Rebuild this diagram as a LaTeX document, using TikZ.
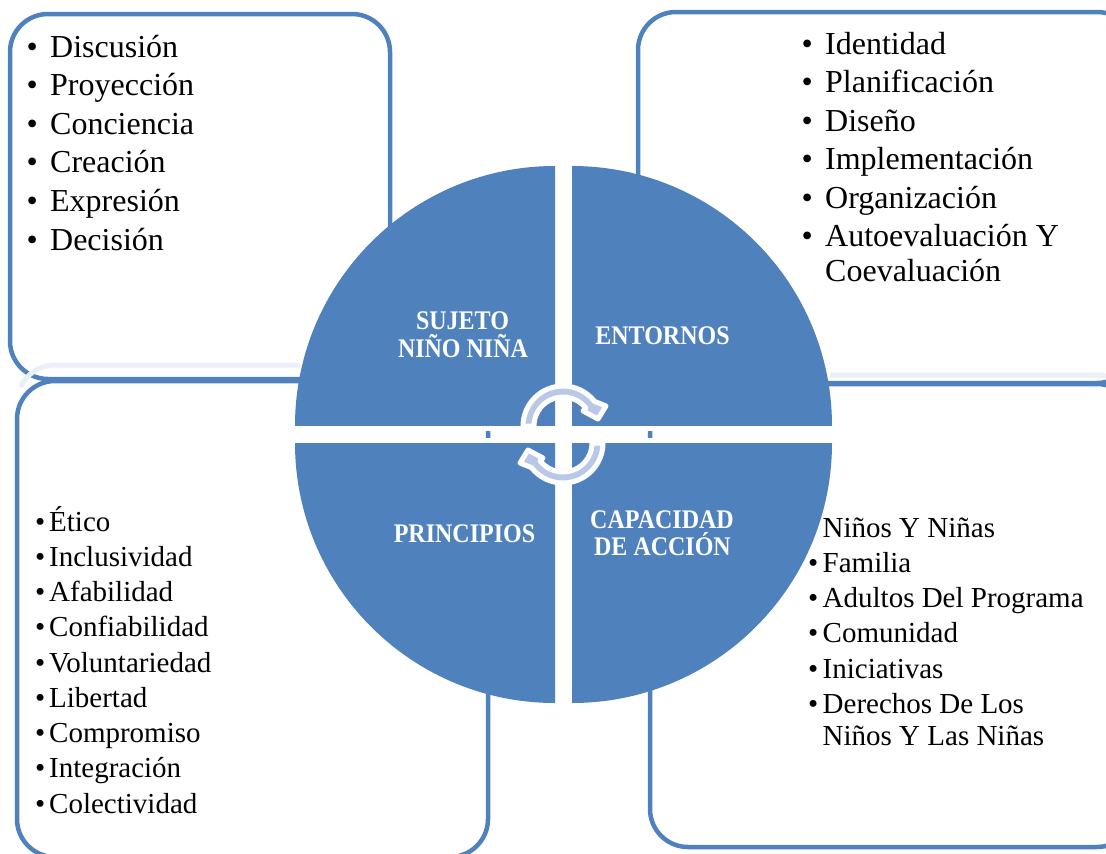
\documentclass[tikz,border=0pt]{standalone}
\usepackage{fontspec}
\setmainfont{Liberation Serif}
\definecolor{mainblue}{HTML}{4F81BD}
\definecolor{arrowfill}{HTML}{B9C9E5}
\definecolor{glowblue}{HTML}{EAF0F8}
\newcommand{\lbltext}[1]{\scalebox{1}[1.12]{#1}}
\begin{document}
\begin{tikzpicture}[x=1pt,y=-1pt,
  box/.style={draw=mainblue, line width=4.5pt, rounded corners=38pt},
  glow/.style={draw=glowblue, line width=5pt},
  quad/.style={fill=mainblue},
  gapband/.style={fill=white},
  itembig/.style={anchor=base west, inner sep=0pt, font=\fontsize{32}{38}\selectfont},
  itemsmall/.style={anchor=base west, inner sep=0pt, font=\fontsize{29}{35}\selectfont},
  lbl/.style={anchor=base, inner sep=0pt, text=white, font=\bfseries\fontsize{24}{28}\selectfont},
  arrowshape/.style={fill=arrowfill, draw=white, line width=5pt, line join=round}
]
\useasboundingbox (0,0) rectangle (1106,854);
\begin{scope}
\clip (0,0) rectangle (1106,854);
% upper boxes
\draw[box] (10,14) rectangle (390,379);
\draw[box] (638,12) rectangle (1135,383);
% faint glow above lower boxes
\draw[glow] ([shift={(55,403)}]205:38) arc[start angle=205,end angle=270,radius=38] -- (300,365);
\draw[glow] (830,375) -- (1097,375) arc[start angle=270,end angle=330,radius=38];
% lower boxes
\draw[box] (17,381) rectangle (488,857);
\draw[box] (650,384) rectangle (1135,847);
\end{scope}

% circle quadrants
\fill[quad] (555,426) -- (295,426) arc[start angle=180,end angle=270,radius=260] -- cycle;
\fill[quad] (572,426) -- (572,166) arc[start angle=270,end angle=360,radius=260] -- cycle;
\fill[quad] (555,443) -- (555,703) arc[start angle=90,end angle=180,radius=260] -- cycle;
\fill[quad] (572,443) -- (832,443) arc[start angle=0,end angle=90,radius=260] -- cycle;
\fill[gapband] (295,426) rectangle (832,431);
\fill[gapband] (295,438) rectangle (832,443);

% circular arrows
\filldraw[arrowshape] (523,426) arc[start angle=180,end angle=322,radius=40]
  -- (606,406) -- (598,419) -- (583,411)
  -- ([shift={(563,426)}]322:29) arc[start angle=322,end angle=180,radius=29] -- cycle;
\begin{scope}[rotate around={180:(563,434.5)}]
\filldraw[arrowshape] (523,426) arc[start angle=180,end angle=322,radius=40]
  -- (606,406) -- (598,419) -- (583,411)
  -- ([shift={(563,426)}]322:29) arc[start angle=322,end angle=180,radius=29] -- cycle;
\end{scope}

% quadrant labels
\node[lbl] (sujeto1) at (462.5,329) {\lbltext{SUJETO}};
\node[lbl] (sujeto2) at (463,357) {\lbltext{NIÑO NIÑA}};
\node[lbl] (entornos) at (662.5,344) {\lbltext{ENTORNOS}};
\node[lbl] (principios) at (464.5,542) {\lbltext{PRINCIPIOS}};
\node[lbl] (capacidad1) at (662,528) {\lbltext{CAPACIDAD}};
\node[lbl] (capacidad2) at (662.5,555) {\lbltext{DE ACCIÓN}};

% top-left list
\foreach \t [count=\i from 0] in {Discusión,Proyección,Conciencia,Creación,Expresión,Decisión}
  \node[itembig] (tl\i) at (50,{57+38.6*\i}) {\llap{\textbullet\hspace{12.4pt}}\t};

% top-right list
\foreach \t [count=\i from 0] in {Identidad,Planificación,Diseño,Implementación,Organización,Autoevaluación Y}
  \node[itembig] (tr\i) at (825,{54+38.5*\i}) {\llap{\textbullet\hspace{12.4pt}}\t};
\node[itembig] (tr6) at (825,281) {Coevaluación};

% bottom-left list
\foreach \t [count=\i from 0] in {Ético,Inclusividad,Afabilidad,Confiabilidad,Voluntariedad,Libertad,Compromiso,Integración,Colectividad}
  \node[itemsmall] (bl\i) at (49,{531+35.25*\i}) {\llap{\textbullet\hspace{4pt}}\t};

% bottom-right list
\node[itemsmall] (br0) at (822.5,537) {Niños Y Niñas};
\foreach \t [count=\i from 1] in {Familia,Adultos Del Programa,Comunidad,Iniciativas,Derechos De Los}
  \node[itemsmall] (br\i) at (822.5,{537+35.25*\i}) {\llap{\textbullet\hspace{4.5pt}}\t};
\node[itemsmall] (br6) at (822.5,745) {Niños Y Las Niñas};
\end{tikzpicture}
\end{document}
